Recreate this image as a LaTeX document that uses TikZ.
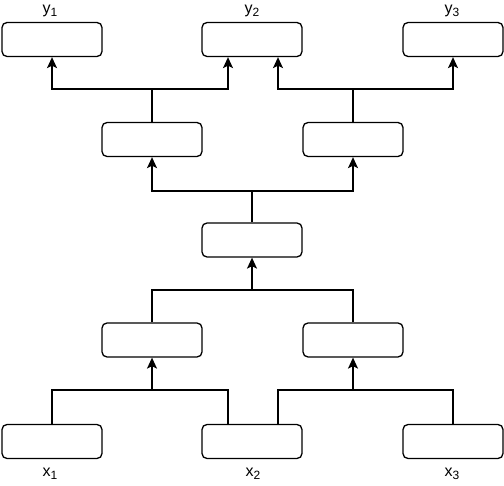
\documentclass[tikz,border=0pt]{standalone}
\usepackage{fontspec}
\setmainfont{Liberation Sans}
\usetikzlibrary{arrows.meta}
\newcommand{\sbs}[2]{#1\raisebox{-3.5pt}{\fontsize{12}{14}\selectfont #2}}
\begin{document}
\begin{tikzpicture}[x=1pt,y=-1pt,
  box/.style={draw,line width=1.3pt,rounded corners=5pt,minimum width=100pt,minimum height=34pt,inner sep=0pt},
  lbl/.style={font=\fontsize{16}{18}\selectfont,inner sep=0pt},
  con/.style={line width=1.4pt},
  arr/.style={line width=1.4pt,-{Stealth[length=11pt,width=10pt,inset=2.5pt]}}]
\useasboundingbox (0,0) rectangle (504,486);
% top row
\node[box] (y1) at (52,39.5) {};
\node[box] (y2) at (252,39.5) {};
\node[box] (y3) at (453,39.5) {};
% row 2
\node[box] (u1) at (152,139.5) {};
\node[box] (u2) at (353,139.5) {};
% row 3
\node[box] (m) at (252,240) {};
% row 4
\node[box] (d1) at (152,340) {};
\node[box] (d2) at (353,340) {};
% bottom
\node[box] (x1) at (52,441.5) {};
\node[box] (x2) at (252,441.5) {};
\node[box] (x3) at (453,441.5) {};
% labels
\node[lbl] (ly1) at (50,11) {\sbs{y}{1}};
\node[lbl] (ly2) at (252,11) {\sbs{y}{2}};
\node[lbl] (ly3) at (452,11) {\sbs{y}{3}};
\node[lbl] (lx1) at (50,474) {\sbs{x}{1}};
\node[lbl] (lx2) at (253,474) {\sbs{x}{2}};
\node[lbl] (lx3) at (452,474) {\sbs{x}{3}};
% junction coordinates
\coordinate (jt1) at (152,89);
\coordinate (jt2) at (353,89);
\coordinate (jm) at (252,191);
\coordinate (jb) at (252,290);
\coordinate (jd1) at (152,390);
\coordinate (jd2) at (353,390);
% top connectors
\draw[con] (u1.north) -- (jt1);
\draw[arr] (jt1) -| (y1.south);
\draw[arr] (jt1) -| ([xshift=-24pt]y2.south);
\draw[con] (u2.north) -- (jt2);
\draw[arr] (jt2) -| ([xshift=26pt]y2.south);
\draw[arr] (jt2) -| (y3.south);
% middle up
\draw[con] (m.north) -- (jm);
\draw[arr] (jm) -| (u1.south);
\draw[arr] (jm) -| (u2.south);
% into middle
\draw[con] (d1.north) |- (jb);
\draw[con] (d2.north) |- (jb);
\draw[arr] (jb) -- (m.south);
% bottom
\draw[con] (x1.north) |- (jd1);
\draw[con] ([xshift=-24pt]x2.north) |- (jd1);
\draw[arr] (jd1) -- (d1.south);
\draw[con] ([xshift=26pt]x2.north) |- (jd2);
\draw[con] (x3.north) |- (jd2);
\draw[arr] (jd2) -- (d2.south);
\end{tikzpicture}
\end{document}
